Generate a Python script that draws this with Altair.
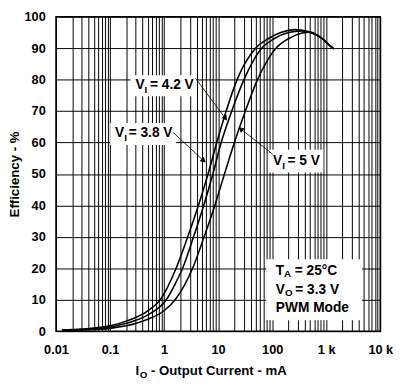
import altair as alt
import pandas as pd
import math

# ---------------- data ----------------
series_names = ["VI = 3.8 V", "VI = 4.2 V", "VI = 5 V"]

i_38 = [0.013, 0.03, 0.1, 0.2, 0.5, 0.85, 1.67, 2.74, 4.31, 6.51, 9.44, 14.1, 22.4, 49.2, 84, 144, 267, 450, 600, 850, 1100, 1390]
e_38 = [0.4, 0.7, 1.7, 3.2, 6.5, 10, 20, 30, 40, 50, 60, 70, 80, 90, 93, 95, 95.9, 95.3, 94.5, 93, 91.2, 89.8]

i_42 = [0.013, 0.03, 0.1, 0.2, 0.5, 1.1, 1.6, 2.2, 3.51, 5.41, 8.0, 11.4, 17.9, 30, 63.8, 108, 200, 357, 600, 850, 1100, 1390]
e_42 = [0.3, 0.55, 1.3, 2.5, 5.2, 10, 15, 20, 30, 40, 50, 60, 70, 80, 90, 93, 95, 95.5, 94.6, 93, 91.2, 89.8]

i_50 = [0.013, 0.03, 0.1, 0.2, 0.5, 1.0, 1.6, 3.37, 5.5, 8.7, 13.1, 20, 31.9, 53.5, 75, 117, 200, 357, 496, 600, 850, 1100, 1390]
e_50 = [0.2, 0.4, 0.9, 1.7, 3.8, 6.5, 10, 20, 30, 40, 50, 60, 70, 80, 85, 90, 93, 94.8, 95.1, 94.7, 93, 91.2, 89.8]

x_tick_values = [0.01, 0.1, 1, 10, 100, 1000, 10000]
x_tick_labels = ["0.01", "0.1", "1", "10", "100", "1 k", "10 k"]
y_tick_values = [0, 10, 20, 30, 40, 50, 60, 70, 80, 90, 100]

rows = []
for name, xs, ys in zip(series_names, [i_38, i_42, i_50], [e_38, e_42, e_50]):
    for a, b in zip(xs, ys):
        rows.append({"series": name, "I": a, "E": b})
curves = pd.DataFrame(rows)

# minor log grid values
grid_vals = [m * 10.0 ** k for k in range(-2, 4) for m in range(1, 10)] + [10000.0]

label_expr = "''"
for v, lab in reversed(list(zip(x_tick_values, x_tick_labels))):
    label_expr = f"abs(datum.value / {v} - 1) < 1e-6 ? '{lab}' : ({label_expr})"

# ---------------- annotation helpers (reference pixel -> data) ----------------
def rx(px):
    return 10 ** (-2 + (px - 56) / 55.8)

def ry(py):
    return (333.5 - py) / 3.3

FONT = "Liberation Sans"

boxes = pd.DataFrame([
    {"I": rx(133), "I2": rx(201), "E": ry(65), "E2": ry(87)},
    {"I": rx(112), "I2": rx(180), "E": ry(115), "E2": ry(138)},
    {"I": rx(276), "I2": rx(332), "E": ry(143), "E2": ry(167)},
    {"I": rx(273), "I2": rx(372), "E": ry(258), "E2": ry(322)},
])

text_items = [
    ("V", 138, 75, 14), ("I", 147.5, 80, 10), ("= 4.2 V", 153, 75, 14),
    ("V", 117, 126, 14), ("I", 126.5, 131, 10), ("= 3.8 V", 131, 126, 14),
    ("V", 280, 155, 14), ("I", 289.5, 160, 10), ("= 5 V", 295, 155, 14),
    ("T", 283, 270, 14), ("A", 291.5, 274, 10), ("= 25°C", 302.5, 270, 14),
    ("V", 283, 290, 14), ("O", 292.5, 294, 10), ("= 3.3 V", 303, 290, 14),
    ("PWM Mode", 283, 309, 14),
    ("I", 138, 375, 13.5), ("O", 142.5, 380, 10), ("- Output Current - mA", 154, 375, 13.5),
]
texts = pd.DataFrame([{"text": t, "I": rx(x), "E": ry(y), "fs": s} for t, x, y, s in text_items])

# arrows: start, tip (reference pixels)
arrow_px = [((200, 68), (233, 113)), ((177, 125), (211, 157)), ((280, 148), (244, 119))]
arrow_rows, head_rows = [], []
for (x0, y0), (x1, y1) in arrow_px:
    dx, dy = x1 - x0, y1 - y0
    L = math.hypot(dx, dy)
    ux, uy = dx / L, dy / L
    arrow_rows.append({"I": rx(x0), "E": ry(y0), "I2": rx(x1 - 4 * ux), "E2": ry(y1 - 4 * uy)})
    ang = math.degrees(math.atan2(dx, -dy)) % 360
    head_rows.append({"I": rx(x1 - 3.5 * ux), "E": ry(y1 - 3.5 * uy), "ang": ang})
arrows = pd.DataFrame(arrow_rows)
heads = pd.DataFrame(head_rows)

# ---------------- encodings ----------------
xscale = alt.Scale(type="log", domain=[0.01, 10000], nice=False)
yscale = alt.Scale(domain=[0, 100], nice=False)

x_axis = alt.Axis(values=grid_vals, labelExpr=label_expr, grid=True, ticks=False, domain=False,
                  title=None, labelFont=FONT, labelFontSize=13, labelFontWeight="bold",
                  labelColor="black", labelPadding=13, labelOverlap=False, labelFlush=False,
                  labelBound=False, gridColor="black", gridWidth=1, gridOpacity=1)
y_axis = alt.Axis(values=y_tick_values, grid=True, ticks=False, domain=False,
                  title="Efficiency - %", titleFont=FONT, titleFontSize=13.5, titleFontWeight="bold",
                  titleColor="black", titlePadding=3,
                  labelFont=FONT, labelFontSize=13, labelFontWeight="bold", labelColor="black",
                  labelPadding=11, gridColor="black", gridWidth=1, gridOpacity=1)

X = alt.X("I:Q", scale=xscale, axis=x_axis)
Y = alt.Y("E:Q", scale=yscale, axis=y_axis)

box_layer = alt.Chart(boxes).mark_rect(color="white", opacity=1).encode(
    x=X, x2="I2:Q", y=Y, y2="E2:Q")

line_layer = alt.Chart(curves).mark_line(color="black", strokeWidth=1.6, interpolate="monotone", clip=True).encode(
    x=X, y=Y, detail="series:N")

arrow_layer = alt.Chart(arrows).mark_rule(color="black", strokeWidth=0.8).encode(
    x=X, x2="I2:Q", y=Y, y2="E2:Q")

head_layer = alt.Chart(heads).mark_point(shape="triangle-up", filled=True, color="black", opacity=1,
                                         size=38, strokeWidth=0).encode(
    x=X, y=Y, angle=alt.Angle("ang:Q", scale=None))

text_layer = alt.Chart(texts).mark_text(align="left", baseline="middle", font=FONT, fontWeight="bold",
                                        color="black").encode(
    x=X, y=Y, text="text:N", size=alt.Size("fs:Q", scale=None))

chart = alt.layer(box_layer, line_layer, arrow_layer, head_layer, text_layer).properties(
    width=331, height=321,
    autosize=alt.AutoSizeParams(type="none"),
    padding={"left": 49, "top": 5, "right": 13, "bottom": 51},
    background="white",
).configure_view(stroke="black", strokeWidth=1.5)

chart.save("out.html", embed_options={"renderer": "svg", "actions": False})
